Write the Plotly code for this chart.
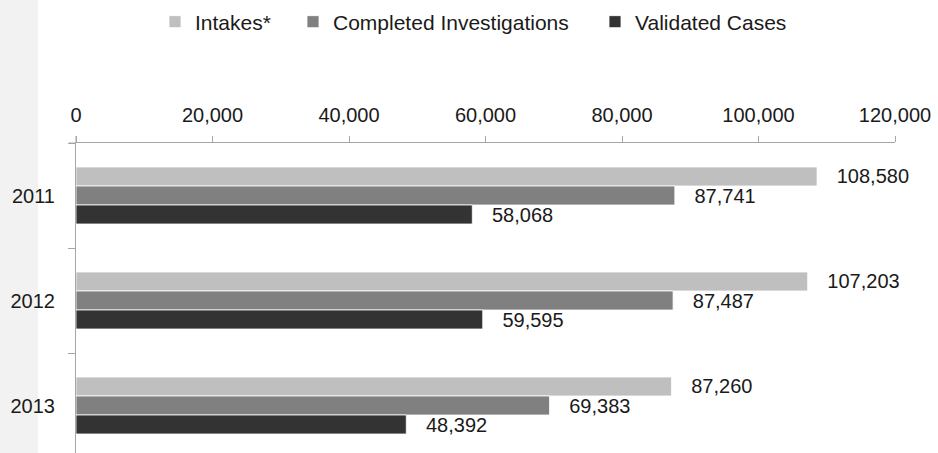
import plotly.graph_objects as go

years = ["2011", "2012", "2013"]
intakes = [108580, 107203, 87260]
completed = [87741, 87487, 69383]
validated = [58068, 59595, 48392]
series_names = ["Intakes*", "Completed Investigations", "Validated Cases"]
series_colors = ["#bfbfbf", "#808080", "#333333"]
x_ticks = [0, 20000, 40000, 60000, 80000, 100000, 120000]

W, H = 938, 453
L, R, T, B = 76, 43, 143, 0
PW, PH = W - L - R, H - T - B

def px_x(p):
    return (p - L) / PW

def px_y(p):
    return (H - B - p) / PH

FONT = "Liberation Sans"
TXT = "#1a1a1a"
AX = "#a6a6a6"

fig = go.Figure()
legends = ["legend", "legend2", "legend3"]
for name, vals, col, lg in zip(series_names, [intakes, completed, validated], series_colors, legends):
    fig.add_trace(go.Bar(
        y=years, x=vals, name=name, orientation="h",
        marker=dict(color=col, line=dict(color="white", width=0.8)),
        texttemplate="\u00a0\u00a0\u00a0%{x:,}", textposition="outside",
        constraintext="none", cliponaxis=False,
        textfont=dict(family=FONT, size=20, color=TXT),
        legend=lg, hoverinfo="skip",
    ))

leg_common = dict(orientation="h", yanchor="middle", xanchor="left",
                  font=dict(family=FONT, size=21, color=TXT),
                  bgcolor="rgba(0,0,0,0)", itemwidth=30)
leg_text_starts = [197, 335, 637]

fig.update_layout(
    width=W, height=H,
    margin=dict(l=L, r=R, t=T, b=B),
    paper_bgcolor="white", plot_bgcolor="white",
    barmode="group", bargap=0.457, bargroupgap=0,
    font=dict(family=FONT, size=20, color=TXT),
    xaxis=dict(side="top", range=[0, 120000], tickvals=x_ticks, tickformat=",",
               showgrid=False, zeroline=False, showline=True, linecolor=AX, linewidth=1,
               ticks="outside", ticklen=6, tickcolor=AX, ticklabelstandoff=6,
               tickfont=dict(family=FONT, size=20, color=TXT)),
    yaxis=dict(type="category", categoryorder="array", categoryarray=years,
               range=[-0.5 + PH / 105.0, -0.5],
               showgrid=False, zeroline=False, showline=True, linecolor=AX, linewidth=1,
               ticks="outside", ticklen=7, tickcolor=AX, tickson="boundaries",
               ticklabelstandoff=16,
               tickfont=dict(family=FONT, size=20, color=TXT)),
    showlegend=True,
    legend=dict(x=px_x(leg_text_starts[0] - 42), y=px_y(22), **leg_common),
    legend2=dict(x=px_x(leg_text_starts[1] - 42), y=px_y(22), **leg_common),
    legend3=dict(x=px_x(leg_text_starts[2] - 42), y=px_y(22), **leg_common),
    shapes=[
        dict(type="rect", xref="paper", yref="paper", x0=px_x(0), x1=px_x(38),
             y0=px_y(H), y1=px_y(0), fillcolor="#f2f2f2", line=dict(width=0), layer="below"),
        dict(type="line", xref="paper", yref="paper", x0=0, x1=0,
             y0=1, y1=px_y(T - 7), line=dict(color=AX, width=1)),
        dict(type="line", xref="paper", yref="paper", x0=px_x(L - 7), x1=0,
             y0=1, y1=1, line=dict(color=AX, width=1)),
    ],
)

fig.write_html("out.html", config={"displayModeBar": False},
               post_script="document.body.style.margin='0px';document.body.style.overflow='hidden';")
